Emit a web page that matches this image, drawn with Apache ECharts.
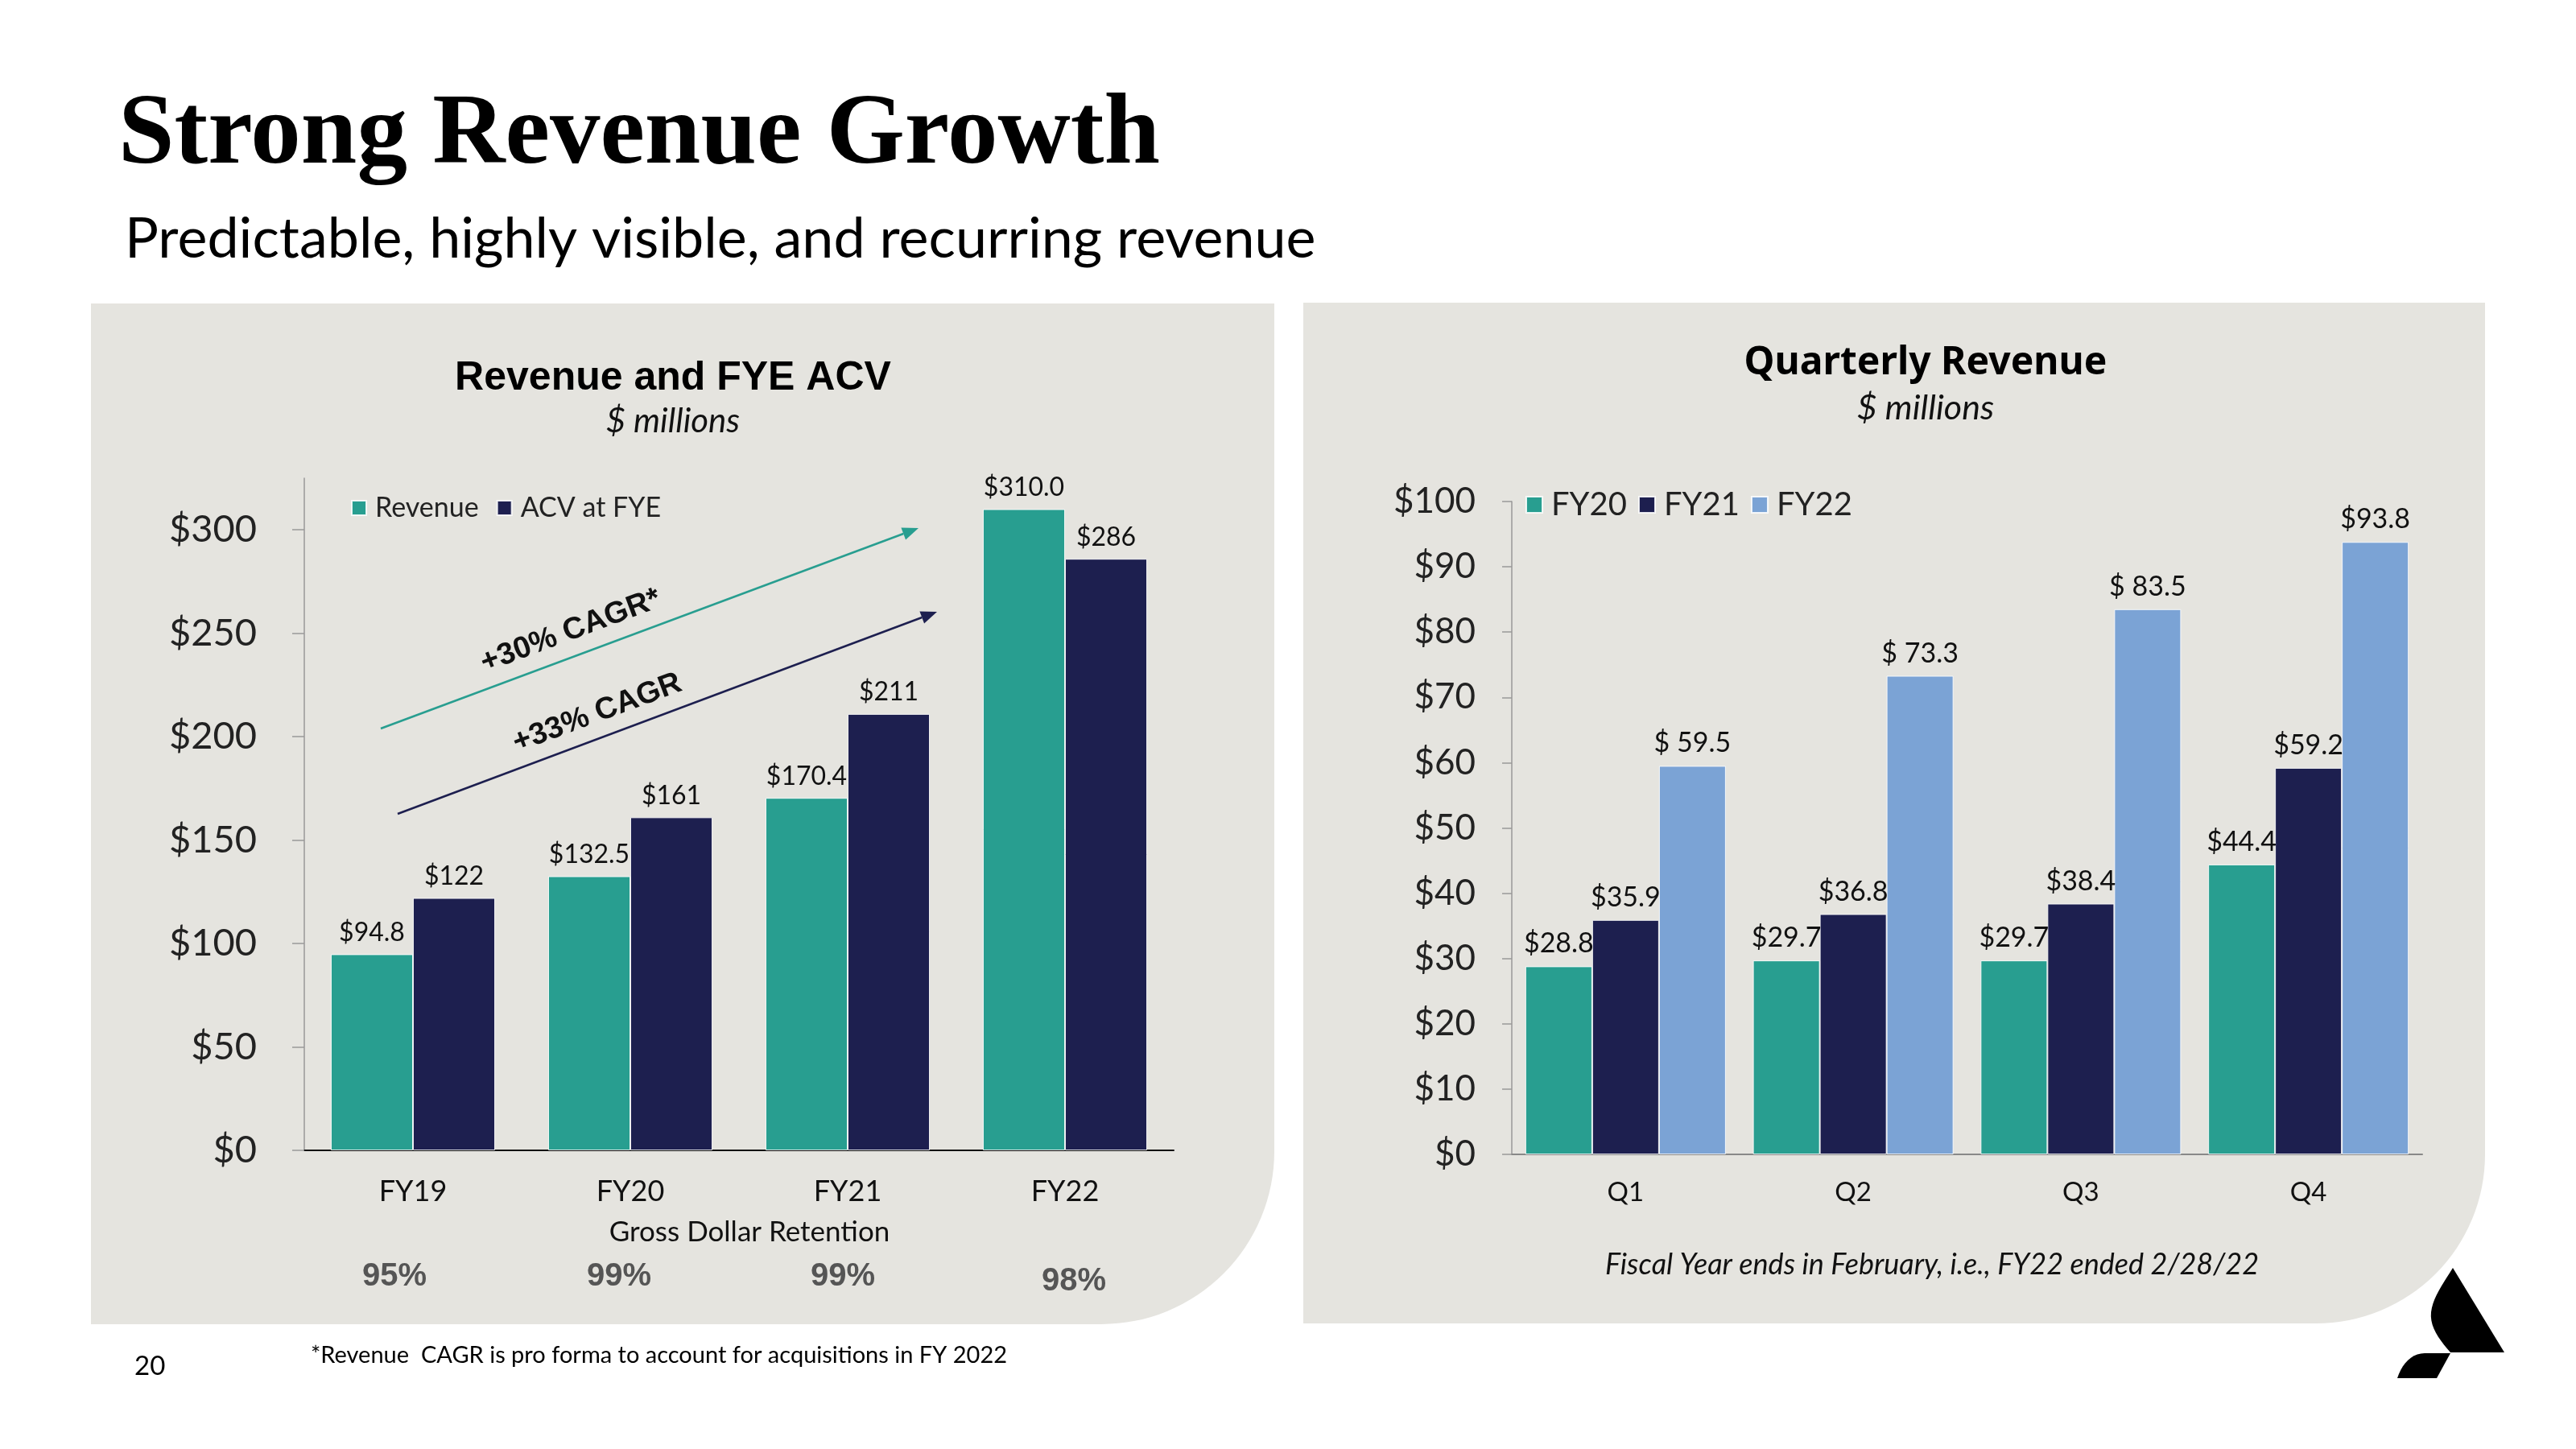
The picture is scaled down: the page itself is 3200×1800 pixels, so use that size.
<!DOCTYPE html>
<html><head><meta charset="utf-8">
<script src="https://cdn.jsdelivr.net/npm/echarts@6/dist/echarts.min.js"></script>
<style>html,body{margin:0;padding:0;background:#fff}#c{width:3200px;height:1800px}</style>
</head><body><div id="c"></div>
<script>
// ---------- data ----------
const annualCategories = ['FY19', 'FY20', 'FY21', 'FY22'];
const revenue = [94.8, 132.5, 170.4, 310.0];
const acvAtFYE = [122, 161, 211, 286];
const grossDollarRetention = ['95%', '99%', '99%', '98%'];
const annualTicks = [0, 50, 100, 150, 200, 250, 300];
const quarters = ['Q1', 'Q2', 'Q3', 'Q4'];
const fy20 = [28.8, 29.7, 29.7, 44.4];
const fy21 = [35.9, 36.8, 38.4, 59.2];
const fy22 = [59.5, 73.3, 83.5, 93.8];
const fy22Labels = ['$ 59.5', '$ 73.3', '$ 83.5', '$93.8'];
const cagrRevenueText = '+30% CAGR*';
const cagrAcvText = '+33% CAGR';

// ---------- styling ----------
const TEAL = '#289E90', NAVY = '#1D1F4F', LBLUE = '#7BA3D5', PANEL = '#E5E4DF';
const SANS = 'Lato, "Noto Sans", sans-serif';
const NOTO = '"Noto Sans", Lato, sans-serif';
const ARIAL = '"Liberation Sans", Arial, sans-serif';
const G1 = {left: 378, top: 594, width: 1080, height: 835};
const G2 = {left: 1878, top: 623, width: 1131, height: 811};

const chart = echarts.init(document.getElementById('c'), null, {renderer: 'canvas', width: 3200, height: 1800});

function barLabel(fmt, size) {
  return {show: true, position: 'top', distance: 11, fontSize: size, color: '#111', fontFamily: SANS, formatter: fmt};
}
const border = {borderColor: 'rgba(255,255,255,0.85)', borderWidth: 1};

const option = {
  backgroundColor: '#ffffff',
  animation: false,
  grid: [
    Object.assign({containLabel: false}, G1),
    Object.assign({containLabel: false}, G2)
  ],
  legend: [
    {data: ['Revenue', 'ACV at FYE'], left: 431, top: 609, icon: 'rect', itemWidth: 18, itemHeight: 18, itemGap: 22,
     textStyle: {fontSize: 34, color: '#222', fontFamily: SANS, padding: [0, 0, 0, 6]}},
    {data: ['FY20', 'FY21', 'FY22'], left: 1890, top: 602, icon: 'rect', itemWidth: 20, itemHeight: 20, itemGap: 14,
     textStyle: {fontSize: 40, color: '#222', fontFamily: SANS, padding: [0, 0, 0, 6]}}
  ],
  xAxis: [
    {type: 'category', gridIndex: 0, data: annualCategories,
     axisLine: {lineStyle: {color: '#111', width: 2}}, axisTick: {show: false},
     axisLabel: {fontSize: 36, color: '#111', fontFamily: SANS, margin: 33}},
    {type: 'category', gridIndex: 1, data: quarters,
     axisLine: {lineStyle: {color: '#888', width: 2}}, axisTick: {show: false},
     axisLabel: {fontSize: 33, color: '#111', fontFamily: SANS, margin: 31}}
  ],
  yAxis: [
    {type: 'value', gridIndex: 0, min: 0, max: 325, interval: 50,
     axisLine: {show: true, lineStyle: {color: '#999', width: 1.5}},
     axisTick: {show: true, length: 15, lineStyle: {color: '#999', width: 1.5}, customValues: annualTicks},
     axisLabel: {fontSize: 47, color: '#222', fontFamily: SANS, margin: 59, customValues: annualTicks,
                 formatter: v => (v > 300 ? '' : '$' + v)},
     splitLine: {show: false}},
    {type: 'value', gridIndex: 1, min: 0, max: 100, interval: 10,
     axisLine: {show: true, lineStyle: {color: '#999', width: 1.5}},
     axisTick: {show: true, length: 12, lineStyle: {color: '#999', width: 1.5}},
     axisLabel: {fontSize: 44, color: '#222', fontFamily: SANS, margin: 45, formatter: v => '$' + v},
     splitLine: {show: false}}
  ],
  series: [
    {name: 'Revenue', type: 'bar', xAxisIndex: 0, yAxisIndex: 0, data: revenue, barWidth: 102, barGap: '0%',
     itemStyle: Object.assign({color: TEAL}, border), label: barLabel(p => '$' + p.value.toFixed(1), 32)},
    {name: 'ACV at FYE', type: 'bar', xAxisIndex: 0, yAxisIndex: 0, data: acvAtFYE, barWidth: 102, barGap: '0%',
     itemStyle: Object.assign({color: NAVY}, border), label: barLabel(p => '$' + p.value, 32)},
    {name: 'FY20', type: 'bar', xAxisIndex: 1, yAxisIndex: 1, data: fy20, barWidth: 83, barGap: '0%',
     itemStyle: Object.assign({color: TEAL}, border), label: barLabel(p => '$' + p.value.toFixed(1), 34)},
    {name: 'FY21', type: 'bar', xAxisIndex: 1, yAxisIndex: 1, data: fy21, barWidth: 83, barGap: '0%',
     itemStyle: Object.assign({color: NAVY}, border), label: barLabel(p => '$' + p.value.toFixed(1), 34)},
    {name: 'FY22', type: 'bar', xAxisIndex: 1, yAxisIndex: 1, data: fy22, barWidth: 83, barGap: '0%',
     itemStyle: Object.assign({color: LBLUE}, border), label: barLabel(p => fy22Labels[p.dataIndex], 34)}
  ]
};
chart.setOption(option);

// ---------- annotations ----------
function txt(x, y, text, size, o) {
  o = o || {};
  return {type: 'text', z: 50, silent: true, rotation: o.rot || 0, x: x, y: y,
    style: {text: text, x: 0, y: 0, fill: o.color || '#111', align: o.align || 'left', verticalAlign: 'middle',
      font: (o.style || 'normal') + ' ' + (o.weight || 'normal') + ' ' + size + 'px ' + (o.family || SANS)}};
}
function arrow(x1, y1, x2, y2, color) {
  const ang = Math.atan2(y2 - y1, x2 - x1), L = 20, W = 8;
  const bx = x2 - L * Math.cos(ang), by = y2 - L * Math.sin(ang);
  const px = -Math.sin(ang) * W, py = Math.cos(ang) * W;
  return [
    {type: 'line', z: 50, silent: true, shape: {x1: x1, y1: y1, x2: bx, y2: by}, style: {stroke: color, lineWidth: 2.5}},
    {type: 'polygon', z: 50, silent: true, shape: {points: [[x2, y2], [bx + px, by + py], [bx - px, by - py]]}, style: {fill: color}}
  ];
}
// sample a cubic bezier into points (for the logo outline)
function cubic(p0, p1, p2, p3, n) {
  const pts = [];
  for (let i = 1; i <= n; i++) {
    const t = i / n, u = 1 - t;
    pts.push([u*u*u*p0[0] + 3*u*u*t*p1[0] + 3*u*t*t*p2[0] + t*t*t*p3[0],
              u*u*u*p0[1] + 3*u*u*t*p1[1] + 3*u*t*t*p2[1] + t*t*t*p3[1]]);
  }
  return pts;
}

const g = [];
// panels
g.push({type: 'rect', z: -100, silent: true, shape: {x: 113, y: 377, width: 1470, height: 1268, r: [0, 0, 215, 0]}, style: {fill: PANEL}});
g.push({type: 'rect', z: -100, silent: true, shape: {x: 1619, y: 376, width: 1468, height: 1268, r: [0, 0, 210, 0]}, style: {fill: PANEL}});
// page title
g.push(txt(147, 170, 'Strong Revenue Growth', 125, {weight: 'bold', family: '"Liberation Serif", "Times New Roman", serif', color: '#000'}));
g.push(txt(155, 297, 'Predictable, highly visible, and recurring revenue', 70, {color: '#000'}));
// left chart titles
g.push(txt(836, 470, 'Revenue and FYE ACV', 50, {weight: 'bold', family: ARIAL, align: 'center', color: '#000'}));
g.push(txt(836, 523, '$ millions', 42, {style: 'italic', align: 'center', color: '#111'}));
// right chart titles
g.push(txt(2392, 451, 'Quarterly Revenue', 48, {weight: 'bold', family: NOTO, align: 'center', color: '#000'}));
g.push(txt(2392, 507, '$ millions', 43, {style: 'italic', align: 'center', color: '#111'}));
g.push(txt(2400, 1571, 'Fiscal Year ends in February, i.e., FY22 ended 2/28/22', 36, {style: 'italic', align: 'center', color: '#111'}));
// gross dollar retention
g.push(txt(931, 1531, 'Gross Dollar Retention', 35, {align: 'center', color: '#111'}));
const retDx = [-23, -14, -6, 11], retDy = [0, 0, 0, 6];
annualCategories.forEach((c, i) => {
  const px = chart.convertToPixel({xAxisIndex: 0}, c);
  g.push(txt(px + retDx[i], 1586 + retDy[i], grossDollarRetention[i], 40, {weight: 'bold', family: ARIAL, align: 'center', color: '#555'}));
});
// CAGR arrows
arrow(473, 905, 1141, 656, TEAL).forEach(e => g.push(e));
arrow(494, 1011, 1164, 760, NAVY).forEach(e => g.push(e));
const rot = Math.atan2(249, 668);
g.push(txt(709, 784, cagrRevenueText, 38, {weight: 'bold', family: ARIAL, align: 'center', rot: rot, color: '#111'}));
g.push(txt(742, 886, cagrAcvText, 38, {weight: 'bold', family: ARIAL, align: 'center', rot: rot, color: '#111'}));
// footer
g.push(txt(167, 1697, '20', 33, {color: '#000'}));
g.push(txt(386, 1684, '*Revenue  CAGR is pro forma to account for acquisitions in FY 2022', 29, {color: '#000'}));
// logo
const bigShape = [[3047, 1575], [3111, 1680], [3044, 1680]]
  .concat(cubic([3044, 1680], [3030, 1664], [3018, 1648], [3020, 1630], 10))
  .concat(cubic([3020, 1630], [3022, 1612], [3034, 1596], [3047, 1575], 10));
const smallShape = [[2978, 1712], [3027, 1712], [3044, 1681], [3012, 1681]]
  .concat(cubic([3012, 1681], [2996, 1681], [2984, 1694], [2978, 1712], 10));
g.push({type: 'polygon', z: 50, silent: true, shape: {points: bigShape}, style: {fill: '#000'}});
g.push({type: 'polygon', z: 50, silent: true, shape: {points: smallShape}, style: {fill: '#000'}});

chart.setOption({graphic: g});
</script>
</body></html>
